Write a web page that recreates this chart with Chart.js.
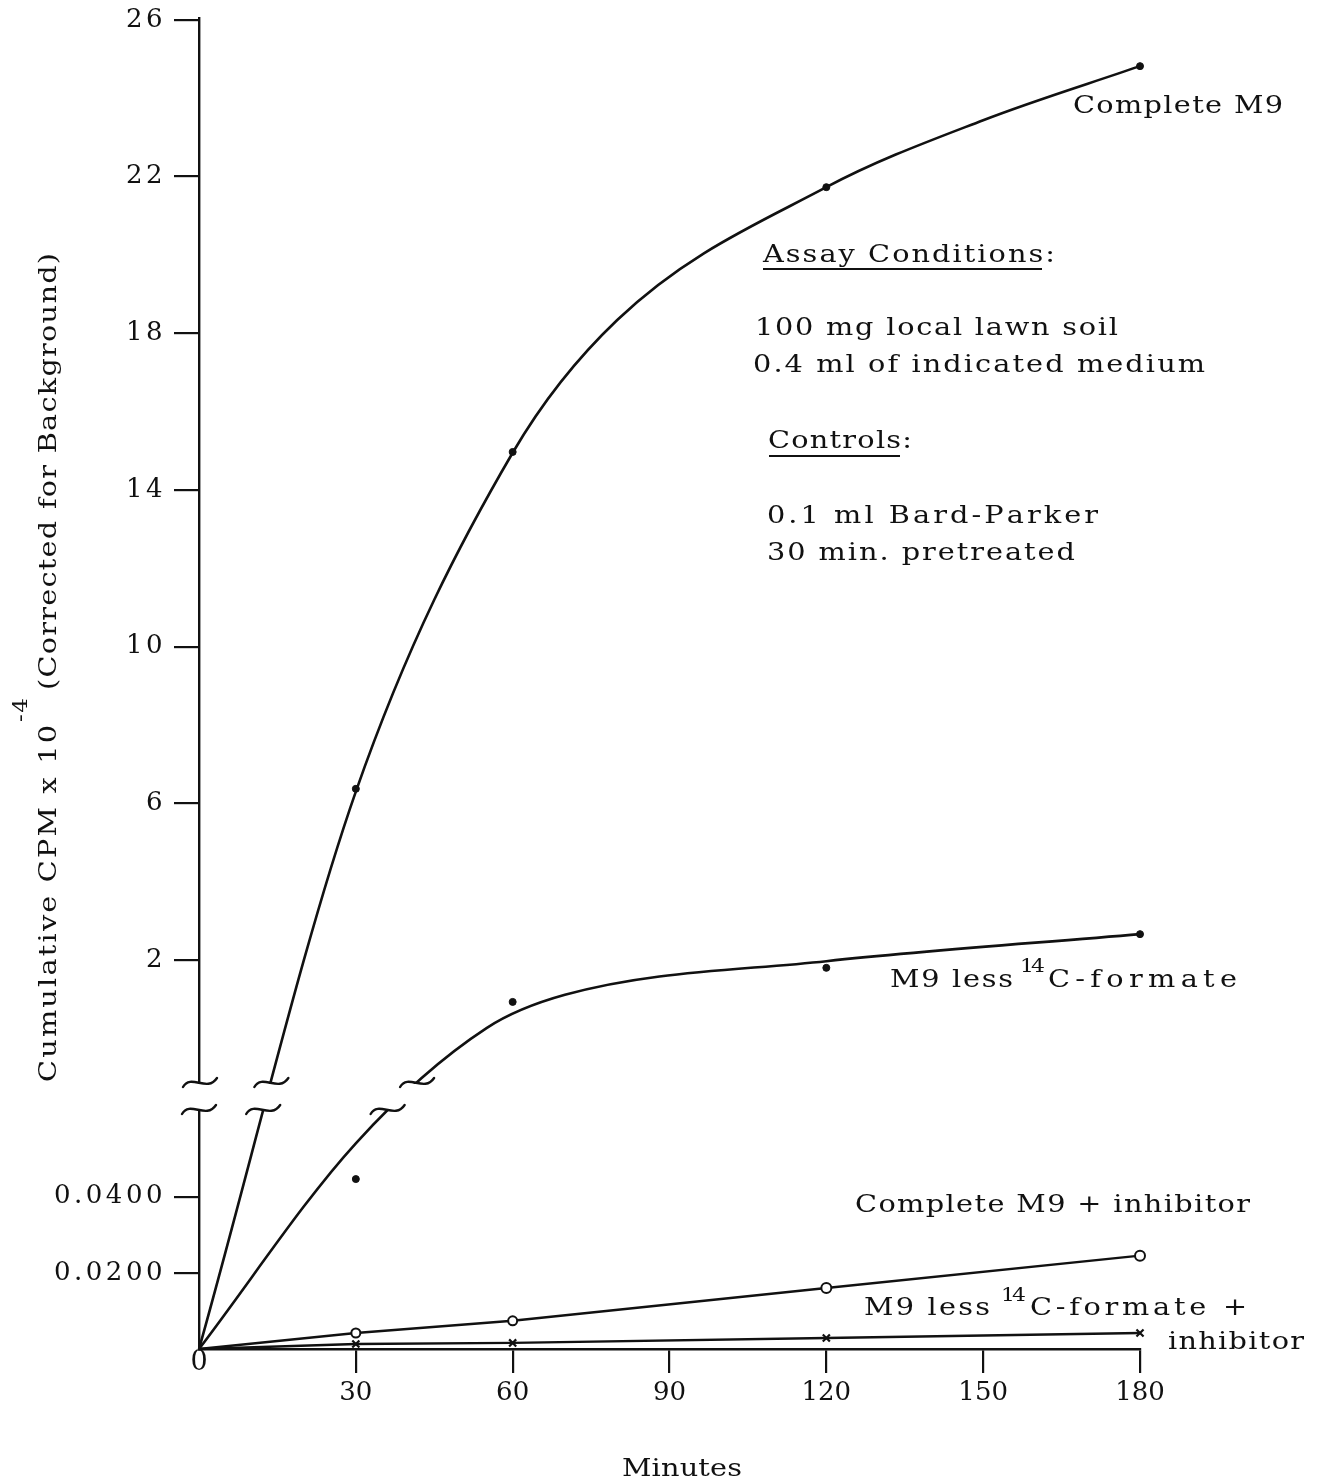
<!DOCTYPE html>
<html><head><meta charset="utf-8">
<script src="https://cdn.jsdelivr.net/npm/chart.js@4.4.1/dist/chart.umd.min.js"></script>
<style>html,body{margin:0;padding:0;background:#fff;}#wrap{width:1319px;height:1482px;position:relative;}</style>
</head><body><div id="wrap"><canvas id="c" width="1319" height="1482"></canvas></div>
<script>
// ---------------- data (Cumulative CPM x 10^-4, minutes) ----------------
const completeM9Minutes = [30, 60, 120, 180];
const completeM9 = [6.37, 14.97, 21.73, 24.82];
const completeM9CurveMinutes = [0, 30, 60, 80, 120, 150, 180];
const completeM9Curve = [0, 6.3, 14.95, 18.34, 21.73, 23.44, 24.82];

const lessFormateMinutes = [30, 60, 120, 180];
const lessFormate = [0.0446, 0.93, 1.80, 2.66];
const lessFormateCurveMinutes = [0, 30, 55, 70, 120, 180];
const lessFormateCurve = [0, 0.054, 0.26, 1.11, 1.97, 2.66];

const inhibMinutes = [0, 30, 60, 120, 180];
const completeInhib = [0, 0.0042, 0.0074, 0.016, 0.0245];
const lessFormateInhib = [0, 0.0013, 0.0016, 0.0029, 0.0042];

const xTicks = [30, 60, 90, 120, 150, 180];
const yTicks = [0.02, 0.04, 2, 6, 10, 14, 18, 22, 26];
const yTickLabels = ['0.0200', '0.0400', '2', '6', '10', '14', '18', '22', '26'];

// ---------------- broken y axis: two linear segments ----------------
const LOWER_TOP = 0.07;
const LOWER_SCALE = 3810;
const UPPER_REF = 2, UPPER_OFFSET = 389, UPPER_SCALE = 39.17;
function toAxis(v) { return v <= LOWER_TOP ? v * LOWER_SCALE : UPPER_OFFSET + (v - UPPER_REF) * UPPER_SCALE; }
const AXIS_MAX = 1331;
const BREAK_LOW = 239, BREAK_HIGH = 266;

const pts = (xs, ys) => xs.map((x, i) => ({ x: x, y: toAxis(ys[i]) }));

const INK = '#111';
const FONT = "'DejaVu Serif'";
const STRETCH = 1.15;

function drawFit(ctx, text, x, y, size, width) {
  ctx.font = size + 'px ' + FONT;
  const chars = Array.from(text);
  const w = chars.map(c => ctx.measureText(c).width * STRETCH);
  const nat = w.reduce((a, b) => a + b, 0);
  const ls = chars.length > 1 ? (width - nat) / (chars.length - 1) : 0;
  let cx = x;
  chars.forEach((c, i) => {
    ctx.save(); ctx.translate(cx, y); ctx.scale(STRETCH, 1); ctx.fillText(c, 0, 0); ctx.restore();
    cx += w[i] + ls;
  });
}

function tilde(ctx, cx, cy) {
  ctx.beginPath();
  ctx.moveTo(cx - 17, cy + 4);
  ctx.bezierCurveTo(cx - 9, cy - 10, cx + 7, cy + 10, cx + 17, cy - 5);
  ctx.stroke();
}

function crossX(meta, yPix) {
  const p = meta.data;
  for (let i = 1; i < p.length; i++) {
    const a = p[i - 1], b = p[i];
    const P = [[a.x, a.y], [a.cp2x ?? a.x, a.cp2y ?? a.y], [b.cp1x ?? b.x, b.cp1y ?? b.y], [b.x, b.y]];
    let prev = null;
    for (let k = 0; k <= 80; k++) {
      const t = k / 80, m = 1 - t;
      const x = m*m*m*P[0][0] + 3*m*m*t*P[1][0] + 3*m*t*t*P[2][0] + t*t*t*P[3][0];
      const y = m*m*m*P[0][1] + 3*m*m*t*P[1][1] + 3*m*t*t*P[2][1] + t*t*t*P[3][1];
      if (prev && (prev[1] - yPix) * (y - yPix) <= 0 && prev[1] !== y) {
        const f = (yPix - prev[1]) / (y - prev[1]);
        return prev[0] + f * (x - prev[0]);
      }
      prev = [x, y];
    }
  }
  return null;
}

const annotations = [
  { t: 'Complete M9', x: 1073, y: 113, w: 210, s: 25 },
  { t: 'Assay Conditions:', x: 763, y: 262, w: 292, s: 25 },
  { t: '100 mg local lawn soil', x: 755, y: 335, w: 363, s: 25 },
  { t: '0.4 ml of indicated medium', x: 753, y: 372, w: 452, s: 25 },
  { t: 'Controls:', x: 768, y: 448, w: 144, s: 25 },
  { t: '0.1 ml Bard-Parker', x: 767, y: 523, w: 331, s: 25 },
  { t: '30 min. pretreated', x: 767, y: 560, w: 308, s: 25 },
  { t: 'M9 less', x: 890, y: 987, w: 123, s: 25 },
  { t: '14', x: 1020, y: 972, w: 25, s: 19 },
  { t: 'C-formate', x: 1048, y: 987, w: 189, s: 25 },
  { t: 'Complete M9 + inhibitor', x: 855, y: 1212, w: 395, s: 25 },
  { t: 'M9 less', x: 864, y: 1315, w: 126, s: 25 },
  { t: '14', x: 1001, y: 1301, w: 25, s: 19 },
  { t: 'C-formate +', x: 1030, y: 1315, w: 217, s: 25 },
  { t: 'inhibitor', x: 1168, y: 1349, w: 136, s: 25 },
  { t: 'Minutes', x: 622, y: 1476, w: 120, s: 25 }
];
const underlines = [[763, 1042, 269], [769, 900, 456]];

const paperPlugin = {
  id: 'paper',
  beforeDraw(chart) {
    const s = chart.scales.y;
    if (!s.__ls) {
      const orig = s.drawLabels;
      s.drawLabels = function (a) {
        const c = this.ctx;
        const has = 'letterSpacing' in c;
        if (has) c.letterSpacing = '3.5px';
        orig.call(this, a);
        if (has) c.letterSpacing = '0px';
      };
      s.__ls = true;
    }
  },
  afterDatasetsDraw(chart) {
    const ctx = chart.ctx, y = chart.scales.y, x = chart.scales.x;
    const yHi = y.getPixelForValue(BREAK_HIGH), yLo = y.getPixelForValue(BREAK_LOW);
    const x0 = x.getPixelForValue(0);
    const crossings = [[x0, x0]];
    [0, 2].forEach(di => {
      const meta = chart.getDatasetMeta(di);
      crossings.push([crossX(meta, yHi), crossX(meta, yLo)]);
    });
    ctx.save();
    ctx.fillStyle = '#fff';
    ctx.fillRect(x0 - 40, yHi + 1, 300, yLo - yHi - 2);
    ctx.strokeStyle = INK; ctx.lineWidth = 2.4; ctx.lineCap = 'round';
    crossings.forEach(([a, b]) => {
      if (a != null) tilde(ctx, a + 1, yHi);
      if (b != null) tilde(ctx, b, yLo);
    });
    ctx.restore();
  },
  afterDraw(chart) {
    const ctx = chart.ctx;
    ctx.save();
    ctx.fillStyle = INK; ctx.strokeStyle = INK;
    ctx.textAlign = 'left'; ctx.textBaseline = 'alphabetic';
    annotations.forEach(a => drawFit(ctx, a.t, a.x, a.y, a.s, a.w));
    ctx.lineWidth = 2;
    underlines.forEach(([a, b, yy]) => { ctx.beginPath(); ctx.moveTo(a, yy); ctx.lineTo(b, yy); ctx.stroke(); });
    // origin label
    ctx.font = '27px ' + FONT; ctx.textAlign = 'center'; ctx.textBaseline = 'middle';
    ctx.fillText('0', chart.scales.x.getPixelForValue(0), chart.scales.y.getPixelForValue(0) + 14);
    // y axis title (rotated)
    ctx.textAlign = 'left'; ctx.textBaseline = 'alphabetic';
    ctx.translate(56, 1082);
    ctx.rotate(-Math.PI / 2);
    drawFit(ctx, 'Cumulative CPM x 10', 0, 0, 25, 357);
    drawFit(ctx, '-4', 360, -29, 20, 24);
    drawFit(ctx, '(Corrected for Background)', 392, 0, 25, 437);
    ctx.restore();
  }
};

const tickFont = { family: FONT, size: 26 };

new Chart(document.getElementById('c'), {
  type: 'line',
  data: {
    datasets: [
      { label: 'Complete M9 curve', data: pts(completeM9CurveMinutes, completeM9Curve),
        borderColor: INK, borderWidth: 2.6, pointRadius: 0, cubicInterpolationMode: 'monotone', fill: false, clip: false },
      { label: 'Complete M9', data: pts(completeM9Minutes, completeM9), showLine: false,
        pointRadius: 3.5, pointBackgroundColor: INK, pointBorderColor: INK, pointBorderWidth: 1, clip: false },
      { label: 'M9 less 14C-formate curve', data: pts(lessFormateCurveMinutes, lessFormateCurve),
        borderColor: INK, borderWidth: 2.6, pointRadius: 0, cubicInterpolationMode: 'monotone', fill: false, clip: false },
      { label: 'M9 less 14C-formate', data: pts(lessFormateMinutes, lessFormate), showLine: false,
        pointRadius: 3.5, pointBackgroundColor: INK, pointBorderColor: INK, pointBorderWidth: 1, clip: false },
      { label: 'Complete M9 + inhibitor', data: pts(inhibMinutes, completeInhib),
        borderColor: INK, borderWidth: 2.4, tension: 0, pointStyle: 'circle', pointRadius: [0, 4.5, 4.5, 5, 5],
        pointBackgroundColor: '#fff', pointBorderColor: INK, pointBorderWidth: 2, clip: false },
      { label: 'M9 less 14C-formate + inhibitor', data: pts(inhibMinutes, lessFormateInhib),
        borderColor: INK, borderWidth: 2.4, tension: 0, pointStyle: 'crossRot', pointRadius: [0, 5, 5, 5, 5],
        pointBorderColor: INK, pointBorderWidth: 2.2, clip: false }
    ]
  },
  options: {
    responsive: false, animation: false, events: [],
    layout: { padding: { top: 18, right: 179, bottom: 0, left: 0 } },
    plugins: { legend: { display: false }, tooltip: { enabled: false } },
    scales: {
      x: {
        type: 'linear', min: 0, max: 180,
        afterBuildTicks: s => { s.ticks = xTicks.map(v => ({ value: v })); },
        afterFit: s => { s.height = 133; s.paddingLeft = 0; s.paddingRight = 0; },
        grid: { drawOnChartArea: false, drawTicks: true, tickLength: 24, color: INK, lineWidth: 2.2 },
        border: { display: true, color: INK, width: 2.4 },
        ticks: { autoSkip: false, maxRotation: 0, padding: 5, color: INK, font: tickFont,
                 callback: v => String(v) }
      },
      y: {
        type: 'linear', min: 0, max: AXIS_MAX,
        afterBuildTicks: s => { s.ticks = yTicks.map(v => ({ value: toAxis(v) })); },
        afterFit: s => { s.width = 199; s.paddingTop = 0; s.paddingBottom = 0; },
        grid: { drawOnChartArea: false, drawTicks: true, tickLength: 25, color: INK, lineWidth: 2.2 },
        border: { display: true, color: INK, width: 2.4 },
        ticks: { autoSkip: false, padding: 8, color: INK, font: tickFont,
                 callback: (v, i) => yTickLabels[i] }
      }
    }
  },
  plugins: [paperPlugin]
});
</script>
</body></html>
